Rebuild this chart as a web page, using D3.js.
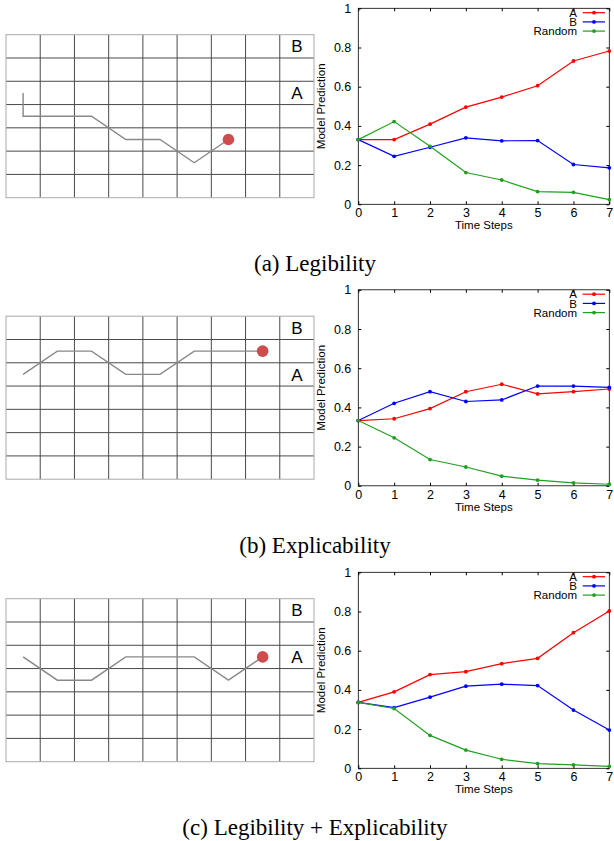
<!DOCTYPE html>
<html>
<head>
<meta charset="utf-8">
<script src="https://cdn.jsdelivr.net/npm/d3@7"></script>
<style>
  body { margin: 0; background: #fff; }
  svg { display: block; }
</style>
</head>
<body>
<svg id="main-svg"></svg>
<script>
// ---- data ----
const steps = [0, 1, 2, 3, 4, 5, 6, 7];
const seriesNames = ["A", "B", "Random"];
const seriesColors = ["#ff0000", "#0000ff", "#1fa01f"];
const yTicks = [0, 0.2, 0.4, 0.6, 0.8, 1];
const captions = ["(a) Legibility", "(b) Explicability", "(c) Legibility + Explicability"];

// model predictions per panel
const legibA = [0.330, 0.330, 0.409, 0.496, 0.547, 0.605, 0.731, 0.782];
const legibB = [0.330, 0.245, 0.291, 0.339, 0.324, 0.325, 0.203, 0.186];
const legibR = [0.330, 0.422, 0.296, 0.162, 0.124, 0.065, 0.061, 0.024];

const explA = [0.333, 0.342, 0.394, 0.480, 0.518, 0.469, 0.480, 0.494];
const explB = [0.333, 0.421, 0.480, 0.430, 0.438, 0.509, 0.509, 0.502];
const explR = [0.333, 0.245, 0.134, 0.096, 0.049, 0.029, 0.015, 0.008];

const bothA = [0.336, 0.390, 0.478, 0.493, 0.534, 0.561, 0.692, 0.803];
const bothB = [0.336, 0.310, 0.363, 0.419, 0.429, 0.422, 0.297, 0.195];
const bothR = [0.336, 0.305, 0.168, 0.093, 0.046, 0.024, 0.017, 0.010];

// agent paths on the grid (column, row), last point is the agent
const pathLegib = [[0.5, 2.5], [0.5, 3.5], [2.5, 3.5], [3.5, 4.5], [4.5, 4.5], [5.5, 5.5], [6.5, 4.5]];
const pathExpl = [[0.5, 2.5], [1.5, 1.5], [2.5, 1.5], [3.5, 2.5], [4.5, 2.5], [5.5, 1.5], [7.5, 1.5]];
const pathBoth = [[0.5, 2.5], [1.5, 3.5], [2.5, 3.5], [3.5, 2.5], [5.5, 2.5], [6.5, 3.5], [7.5, 2.5]];

const goalLabels = ["B", "A"];
const goalRows = [0.5, 2.5];
const nCols = 9, nRows = 7;

const panels = [
    { series: [legibA, legibB, legibR], path: pathLegib, caption: captions[0] },
    { series: [explA, explB, explR], path: pathExpl, caption: captions[1] },
    { series: [bothA, bothB, bothR], path: pathBoth, caption: captions[2] },
];
const panelOffsets = [0, 281.5, 564];

const svg = d3.select("#main-svg").attr("width", 614).attr("height", 841);
const sans = "'Liberation Sans', Arial, Helvetica, sans-serif";

panels.forEach((p, i) => {
    const g = svg.append("g").attr("transform", `translate(0, ${panelOffsets[i]})`);
    drawGrid(g, p.path);
    drawChart(g, p.series);
    g.append("text")
        .attr("x", 315)
        .attr("y", 271)
        .attr("text-anchor", "middle")
        .attr("font-family", "'Times New Roman', 'Liberation Serif', serif")
        .attr("font-size", 23)
        .attr("fill", "#000")
        .text(p.caption);
});

function drawGrid(g, path) {
    const gx = d3.scaleLinear().domain([0, nCols]).range([6, 314]);
    const gy = d3.scaleLinear().domain([0, nRows]).range([34.7, 197.7]);

    // inner lines
    g.append("g").selectAll("line.v")
        .data(d3.range(1, nCols))
        .join("line")
        .attr("x1", d => gx(d)).attr("x2", d => gx(d))
        .attr("y1", gy(0)).attr("y2", gy(nRows))
        .attr("stroke", "#4a4a4a").attr("stroke-width", 1);
    g.append("g").selectAll("line.h")
        .data(d3.range(1, nRows))
        .join("line")
        .attr("x1", gx(0)).attr("x2", gx(nCols))
        .attr("y1", d => gy(d)).attr("y2", d => gy(d))
        .attr("stroke", "#4a4a4a").attr("stroke-width", 1);
    // outer border
    g.append("rect")
        .attr("x", gx(0)).attr("y", gy(0))
        .attr("width", gx(nCols) - gx(0))
        .attr("height", gy(nRows) - gy(0))
        .attr("fill", "none")
        .attr("stroke", "#aaa")
        .attr("stroke-width", 1);

    goalLabels.forEach((lab, k) => {
        g.append("text")
            .attr("x", gx(nCols - 0.5))
            .attr("y", gy(goalRows[k]))
            .attr("dy", "0.36em")
            .attr("text-anchor", "middle")
            .attr("font-family", sans)
            .attr("font-size", 17)
            .text(lab);
    });

    const line = d3.line().x(d => gx(d[0])).y(d => gy(d[1]));
    g.append("path")
        .attr("d", line(path))
        .attr("fill", "none")
        .attr("stroke", "#888")
        .attr("stroke-width", 1.4);
    const last = path[path.length - 1];
    g.append("circle")
        .attr("cx", gx(last[0]))
        .attr("cy", gy(last[1]))
        .attr("r", 5.8)
        .attr("fill", "#cf4c4c");
}

function drawChart(g, series) {
    const x = d3.scaleLinear().domain([0, 7]).range([358.3, 609.3]);
    const y = d3.scaleLinear().domain([0, 1]).range([204.3, 8.3]);

    const axisStyle = (sel) => {
        sel.select(".domain").remove();
        sel.selectAll(".tick line").attr("stroke", "#000");
        sel.selectAll("text").attr("font-family", sans).attr("font-size", 12.5).attr("fill", "#000");
    };

    g.append("g").attr("transform", `translate(${x(0)},0)`)
        .call(d3.axisLeft(y).tickValues(yTicks).tickFormat(d3.format("")).tickSize(-3).tickPadding(7))
        .call(axisStyle);
    g.append("g").attr("transform", `translate(${x(7)},0)`)
        .call(d3.axisRight(y).tickValues(yTicks).tickFormat("").tickSize(-3))
        .call(axisStyle);
    g.append("g").attr("transform", `translate(0,${y(0)})`)
        .call(d3.axisBottom(x).tickValues(steps).tickFormat(d3.format("d")).tickSize(-3).tickPadding(4))
        .call(axisStyle);
    g.append("g").attr("transform", `translate(0,${y(1)})`)
        .call(d3.axisTop(x).tickValues(steps).tickFormat("").tickSize(-3))
        .call(axisStyle);

    g.append("rect")
        .attr("x", x(0)).attr("y", y(1))
        .attr("width", x(7) - x(0)).attr("height", y(0) - y(1))
        .attr("fill", "none").attr("stroke", "#000").attr("stroke-width", 0.8);

    g.append("text")
        .attr("transform", `translate(325, ${(y(0) + y(1)) / 2}) rotate(-90)`)
        .attr("text-anchor", "middle")
        .attr("font-family", sans)
        .attr("font-size", 11.5)
        .text("Model Prediction");
    g.append("text")
        .attr("x", (x(0) + x(7)) / 2)
        .attr("y", 229)
        .attr("text-anchor", "middle")
        .attr("font-family", sans)
        .attr("font-size", 11.5)
        .text("Time Steps");

    const line = d3.line().x((d, j) => x(steps[j])).y(d => y(d));
    series.forEach((vals, k) => {
        g.append("path")
            .attr("d", line(vals))
            .attr("fill", "none")
            .attr("stroke", seriesColors[k])
            .attr("stroke-width", 1.2);
        g.append("g").selectAll("circle")
            .data(vals)
            .join("circle")
            .attr("cx", (d, j) => x(steps[j]))
            .attr("cy", d => y(d))
            .attr("r", 1.9)
            .attr("fill", seriesColors[k]);
    });

    // legend (entries sit tightly stacked, as in the original)
    seriesNames.forEach((name, k) => {
        const ly = 12.7 + k * 9.2;
        g.append("text")
            .attr("x", 577)
            .attr("y", ly)
            .attr("dy", "0.36em")
            .attr("text-anchor", "end")
            .attr("font-family", sans)
            .attr("font-size", 11.5)
            .text(name);
        g.append("line")
            .attr("x1", 582.7).attr("x2", 605)
            .attr("y1", ly).attr("y2", ly)
            .attr("stroke", seriesColors[k]).attr("stroke-width", 1.2);
        g.append("circle")
            .attr("cx", 594).attr("cy", ly).attr("r", 1.9)
            .attr("fill", seriesColors[k]);
    });
}
</script>
</body>
</html>
